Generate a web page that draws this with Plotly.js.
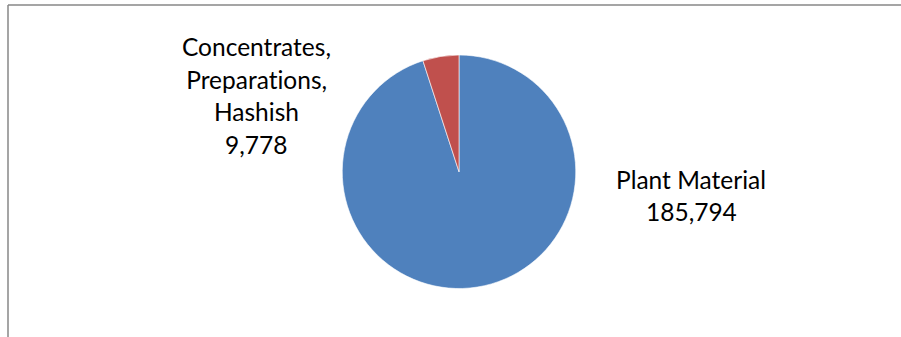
<!DOCTYPE html>
<html>
<head>
<meta charset="utf-8">
<script src="https://cdn.plot.ly/plotly-3.0.1.min.js"></script>
<style>
html,body{margin:0;padding:0;background:#fff;}
#chart{width:901px;height:337px;}
#chart text{font-variant-ligatures:none !important;font-feature-settings:"liga" 0, "clig" 0 !important;}
</style>
</head>
<body>
<div id="chart"></div>
<script>
const categories = ["Plant Material", "Concentrates, Preparations, Hashish"];
const values = [185794, 9778];
const colors = ["#4F81BD", "#C0504D"];
const labelLines = [
  ["Plant Material", "185,794"],
  ["Concentrates,", "Preparations,", "Hashish", "9,778"]
];

const W = 901, H = 337;
const labelPos = [
  {x: 691, y0: 179, dy: 32.5},
  {x: 256, y0: 46.5, dy: 32.5}
];

const annotations = [];
labelLines.forEach((lines, i) => {
  lines.forEach((t, j) => {
    annotations.push({
      text: t, xref: 'paper', yref: 'paper',
      x: labelPos[i].x / W, y: 1 - (labelPos[i].y0 + j * labelPos[i].dy) / H,
      xanchor: 'center', yanchor: 'middle', showarrow: false,
      font: {family: 'Lato, sans-serif', size: 24.5, color: '#000'}
    });
  });
});

const data = [{
  type: 'pie',
  labels: categories,
  values: values,
  sort: false,
  direction: 'clockwise',
  rotation: 0,
  marker: {colors: colors, line: {color: '#ffffff', width: 0.6}},
  textinfo: 'none',
  hoverinfo: 'label+value',
  showlegend: false,
  domain: {x: [342 / W, 576 / W], y: [1 - 288.5 / H, 1 - 55 / H]}
}];

const layout = {
  width: W, height: H,
  margin: {l: 0, r: 0, t: 0, b: 0},
  paper_bgcolor: '#fff',
  showlegend: false,
  annotations: annotations,
  shapes: [
    {type: 'line', xref: 'paper', yref: 'paper', x0: 8 / W, x1: 1, y0: 1 - 5 / H, y1: 1 - 5 / H, line: {color: '#878787', width: 1.5}},
    {type: 'line', xref: 'paper', yref: 'paper', x0: 8 / W, x1: 8 / W, y0: 1 - 5 / H, y1: 0, line: {color: '#878787', width: 1.5}}
  ]
};

Plotly.newPlot('chart', data, layout, {displayModeBar: false, staticPlot: true});
</script>
</body>
</html>
